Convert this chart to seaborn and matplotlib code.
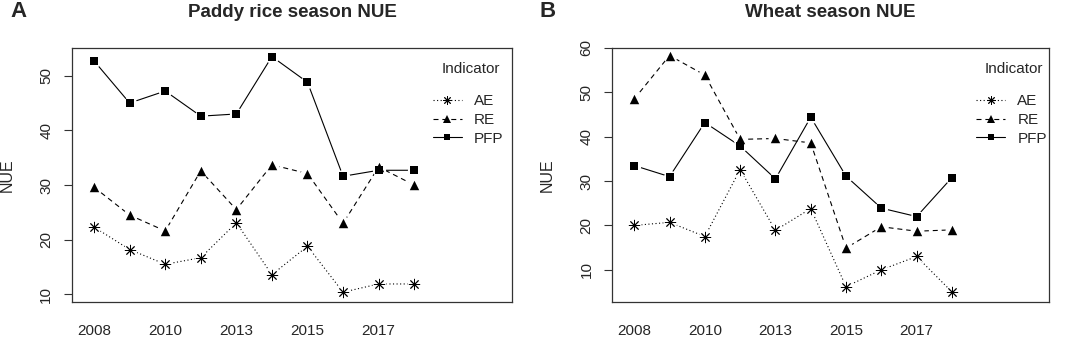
import pandas as pd
import seaborn as sns
import matplotlib.pyplot as plt
from matplotlib.lines import Line2D

sns.set_style("ticks")
plt.rcParams["font.family"] = ["Liberation Sans", "DejaVu Sans"]

# Data
years = ["2008", "2009", "2010", "2012", "2013", "2014", "2015", "2016", "2017", "2018"]
shown_years = ["2008", "2010", "2013", "2015", "2017"]
indicators = ["AE", "RE", "PFP"]

rice_ae = [22.3, 18.2, 15.5, 16.7, 23.1, 13.6, 18.8, 10.4, 11.9, 11.9]
rice_re = [29.6, 24.5, 21.6, 32.6, 25.5, 33.7, 32.1, 23.0, 33.3, 30.0]
rice_pfp = [52.7, 45.0, 47.2, 42.6, 43.0, 53.5, 48.8, 31.6, 32.7, 32.7]

wheat_ae = [20.0, 20.7, 17.5, 32.6, 18.9, 23.8, 6.2, 10.0, 13.0, 5.0]
wheat_re = [48.5, 58.3, 53.9, 39.4, 39.6, 38.6, 14.9, 19.7, 18.7, 19.0]
wheat_pfp = [33.5, 31.0, 43.2, 37.9, 30.5, 44.4, 31.1, 23.9, 22.0, 30.8]

rice = pd.DataFrame({"Year": years, "AE": rice_ae, "RE": rice_re, "PFP": rice_pfp})
wheat = pd.DataFrame({"Year": years, "AE": wheat_ae, "RE": wheat_re, "PFP": wheat_pfp})

styles = {
    "AE": dict(ls=(0, (1, 2.2)), marker=(8, 2, 0), size=7.6, halo=10),
    "RE": dict(ls=(0, (4.5, 3.5)), marker="^", size=6.8, halo=10),
    "PFP": dict(ls="-", marker="s", size=5.6, halo=9.5),
}

fig = plt.figure(figsize=(10.72, 3.38), dpi=100)
ax_a = fig.add_axes([0.0672, 0.1065, 0.4104, 0.7515])
ax_b = fig.add_axes([0.5712, 0.1065, 0.4074, 0.7515])


def draw_panel(ax, df, title, letter, ylim, yticks, leg_x, title_x, ylab_x, letter_x):
    long = df.melt(id_vars="Year", var_name="Indicator", value_name="NUE")
    long["pos"] = long["Year"].map({y: i for i, y in enumerate(years)})

    for name in indicators:
        sub = long[long["Indicator"] == name]
        st = styles[name]
        sns.lineplot(data=sub, x="pos", y="NUE", ax=ax, color="black",
                     lw=0.8, linestyle=st["ls"], zorder=1)
        # white gap around the point, like R type = "b"
        sns.scatterplot(data=sub, x="pos", y="NUE", ax=ax, marker="o",
                        s=st["halo"] ** 2, color="white", linewidth=0, zorder=2)
        if name == "AE":
            sns.scatterplot(data=sub, x="pos", y="NUE", ax=ax, marker=st["marker"],
                            s=st["size"] ** 2, color="black", edgecolor="black",
                            linewidth=0.65, zorder=3)
        else:
            sns.scatterplot(data=sub, x="pos", y="NUE", ax=ax, marker=st["marker"],
                            s=st["size"] ** 2, color="black", linewidth=0, zorder=3)

    ax.set_xlim(-0.62, 11.75)
    ax.set_ylim(*ylim)
    ax.set_xticks([years.index(y) for y in shown_years])
    ax.set_xticklabels(shown_years, fontsize=11)
    ax.set_yticks(yticks)
    ax.set_yticklabels([str(t) for t in yticks], fontsize=11, rotation=90, va="center")
    ax.tick_params(axis="x", length=0, pad=16)
    ax.tick_params(axis="y", length=5.5, width=0.8, pad=8, color="#333333")
    ax.set_xlabel("")
    ax.set_ylabel("NUE", fontsize=11.5)
    ax.yaxis.set_label_coords(ylab_x, 0.5)
    for sp in ax.spines.values():
        sp.set_linewidth(0.9)
        sp.set_color("#333333")

    ax.set_title(title, fontsize=13.5, fontweight="bold", pad=22)
    handles = [Line2D([], [], color="black", lw=0.8, linestyle=styles[n]["ls"],
                      marker=styles[n]["marker"], markersize=styles[n]["size"] * 0.8,
                      markeredgewidth=0.65 if n == "AE" else 0,
                      markerfacecolor="black", markeredgecolor="black")
               for n in indicators]
    ax.legend(handles, indicators, loc="upper left", bbox_to_anchor=(leg_x, 0.817),
              frameon=False, fontsize=11, handlelength=1.9, handletextpad=0.8,
              labelspacing=0.3, borderpad=0, borderaxespad=0)
    ax.text(title_x, 0.917, "Indicator", transform=ax.transAxes, ha="center",
            va="center", fontsize=11)
    ax.text(letter_x, 1.142, letter, transform=ax.transAxes, fontsize=16,
            fontweight="bold", va="center", ha="left")


draw_panel(ax_a, rice, "Paddy rice season NUE", "A", (8.6, 55.07),
           [10, 20, 30, 40, 50], 0.820, 0.907, -0.131, -0.141)
draw_panel(ax_b, wheat, "Wheat season NUE", "B", (2.74, 60),
           [10, 20, 30, 40, 50, 60], 0.833, 0.920, -0.132, -0.166)

plt.savefig("out.png", dpi=100)
